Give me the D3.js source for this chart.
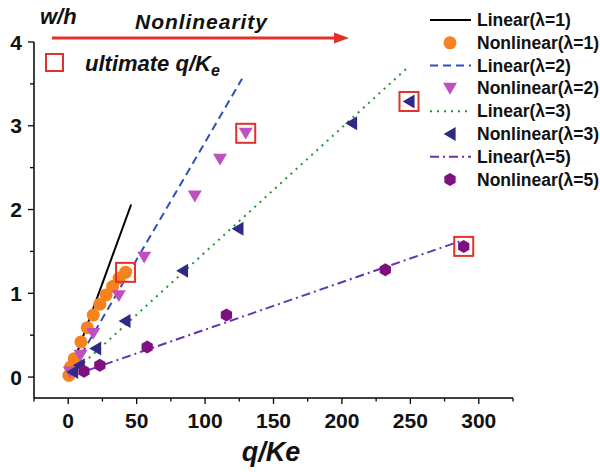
<!DOCTYPE html>
<html>
<head>
<meta charset="utf-8">
<script src="https://cdn.jsdelivr.net/npm/d3@7"></script>
<style>
  body { margin: 0; background: #fff; }
  text { font-family: "Liberation Sans", Arial, sans-serif; font-weight: bold; }
</style>
</head>
<body>
<div id="chart"></div>
<script>
// Linear fits: start and end of each straight line (q/Ke, w/h)
const linear1 = [[0, 0], [46, 2.06]];
const linear2 = [[0, 0], [127, 3.56]];
const linear3 = [[0, 0], [249, 3.71]];
const linear5 = [[0, 0], [286, 1.62]];

// Nonlinear results
const nonlin1X = [0.5, 1.7, 4.4, 9.3, 13.9, 18.3, 23.1, 27.7, 32.4, 37.2, 41.9];
const nonlin1Y = [0.02, 0.12, 0.22, 0.42, 0.59, 0.74, 0.87, 0.98, 1.08, 1.18, 1.25];
const nonlin2X = [1.2, 9, 18.3, 37, 55.5, 92.5, 110.9, 129.7];
const nonlin2Y = [0.06, 0.26, 0.52, 0.97, 1.43, 2.16, 2.6, 2.91];
const nonlin3X = [3.2, 8, 20, 41.4, 83.5, 124, 207, 249];
const nonlin3Y = [0.06, 0.14, 0.34, 0.67, 1.27, 1.77, 3.03, 3.29];
const nonlin5X = [11.5, 23.1, 57.7, 115.6, 231.7, 289];
const nonlin5Y = [0.07, 0.14, 0.36, 0.74, 1.28, 1.56];

// ultimate q/Ke points (last of each nonlinear series)
const ultimateX = [41.9, 129.7, 249, 289];
const ultimateY = [1.25, 2.91, 3.29, 1.56];

const xTicks = [0, 50, 100, 150, 200, 250, 300];
const yTicks = [0, 1, 2, 3, 4];

const legendLabels = ['Linear(λ=1)', 'Nonlinear(λ=1)', 'Linear(λ=2)', 'Nonlinear(λ=2)',
  'Linear(λ=3)', 'Nonlinear(λ=3)', 'Linear(λ=5)', 'Nonlinear(λ=5)'];

const width = 600, height = 472;
const svg = d3.select('#chart').append('svg')
  .attr('width', width).attr('height', height);

const x = d3.scaleLinear().domain([-25, 325]).range([34, 513]);
const y = d3.scaleLinear().domain([-0.25, 4]).range([398, 42]);

// Marker shapes
const triDown = s => `M${-s},${-s * 0.8}L${s},${-s * 0.8}L0,${s * 0.9}Z`;
const triLeft = s => `M${-s * 0.9},0L${s * 0.8},${-s}L${s * 0.8},${s}Z`;
const hexagon = r => d3.range(6).map(i => {
  const a = Math.PI / 3 * i + Math.PI / 6;
  return (i ? 'L' : 'M') + (r * Math.cos(a)).toFixed(2) + ',' + (r * Math.sin(a)).toFixed(2);
}).join('') + 'Z';
const circle = r => `M${r},0A${r},${r} 0 1,1 ${-r},0A${r},${r} 0 1,1 ${r},0Z`;

const lineStyles = {
  l1: { color: '#000000', dash: null, w: 2 },
  l2: { color: '#2e4fbf', dash: '8,5', w: 2 },
  l3: { color: '#1a9a2e', dash: '2,5', w: 2 },
  l5: { color: '#6236b0', dash: '9,4,2,4', w: 2 }
};
const markerStyles = {
  n1: { color: '#f5821f', path: circle(6.5) },
  n2: { color: '#c04fbf', path: triDown(7) },
  n3: { color: '#2f2a86', path: triLeft(7) },
  n5: { color: '#7e1080', path: hexagon(6.5) }
};

const line = d3.line().x(d => x(d[0])).y(d => y(d[1]));

// Axes
const xAxis = svg.append('g').attr('transform', 'translate(0,398)');
xAxis.append('line').attr('x1', 34).attr('x2', 513).attr('stroke', '#000').attr('stroke-width', 1.5);
xAxis.selectAll('.minor').data(d3.range(-25, 326, 25)).enter().append('line')
  .attr('x1', d => x(d)).attr('x2', d => x(d))
  .attr('y1', 0).attr('y2', d => d % 50 === 0 ? 6 : 3.5)
  .attr('stroke', '#000').attr('stroke-width', 1.3);
xAxis.selectAll('.lbl').data(xTicks).enter().append('text')
  .attr('x', d => x(d)).attr('y', 30).attr('text-anchor', 'middle')
  .attr('font-size', 21).attr('fill', '#111').text(d => d);

const yAxis = svg.append('g').attr('transform', 'translate(34,0)');
yAxis.append('line').attr('y1', 42).attr('y2', 398).attr('stroke', '#000').attr('stroke-width', 1.5);
yAxis.selectAll('.minor').data(d3.range(0, 4.01, 0.5)).enter().append('line')
  .attr('y1', d => y(d)).attr('y2', d => y(d))
  .attr('x1', 0).attr('x2', d => d % 1 === 0 ? -6 : -4)
  .attr('stroke', '#000').attr('stroke-width', 1.3);
yAxis.selectAll('.lbl').data(yTicks).enter().append('text')
  .attr('x', -12).attr('y', d => y(d) + 7.5).attr('text-anchor', 'end')
  .attr('font-size', 21).attr('fill', '#111').text(d => d);

// Axis titles
svg.append('text').attr('x', 271).attr('y', 461).attr('text-anchor', 'middle')
  .attr('font-size', 27).attr('font-style', 'italic').attr('fill', '#111').text('q/Ke');
svg.append('text').attr('x', 40).attr('y', 24)
  .attr('font-size', 22).attr('font-style', 'italic').attr('fill', '#111').text('w/h');

// Nonlinearity arrow
svg.append('text').attr('x', 135).attr('y', 29)
  .attr('font-size', 21).attr('font-style', 'italic').attr('fill', '#111')
  .attr('textLength', 132).text('Nonlinearity');
svg.append('line').attr('x1', 52).attr('x2', 336).attr('y1', 38).attr('y2', 38)
  .attr('stroke', '#e3312a').attr('stroke-width', 3);
svg.append('path').attr('d', 'M334,32.5L349,38L334,43.5Z').attr('fill', '#e3312a');

// ultimate legend
svg.append('rect').attr('x', 46).attr('y', 54).attr('width', 17).attr('height', 17)
  .attr('fill', 'none').attr('stroke', '#e3312a').attr('stroke-width', 2);
const ult = svg.append('text').attr('x', 85).attr('y', 71)
  .attr('font-size', 22).attr('font-style', 'italic').attr('fill', '#111');
ult.append('tspan').text('ultimate q/K');
ult.append('tspan').attr('font-size', 16).attr('dy', 5).text('e');

// Linear lines
[[linear1, 'l1'], [linear2, 'l2'], [linear3, 'l3'], [linear5, 'l5']].forEach(([pts, k]) => {
  const st = lineStyles[k];
  svg.append('path').attr('d', line(pts)).attr('fill', 'none')
    .attr('stroke', st.color).attr('stroke-width', st.w)
    .attr('stroke-dasharray', st.dash);
});

// Nonlinear markers
[[nonlin1X, nonlin1Y, 'n1'], [nonlin2X, nonlin2Y, 'n2'], [nonlin3X, nonlin3Y, 'n3'], [nonlin5X, nonlin5Y, 'n5']]
  .forEach(([xs, ys, k]) => {
    const st = markerStyles[k];
    svg.append('g').selectAll('path').data(xs).enter().append('path')
      .attr('transform', (d, i) => `translate(${x(d)},${y(ys[i])})`)
      .attr('d', st.path).attr('fill', st.color);
  });

// ultimate boxes
svg.append('g').selectAll('rect').data(ultimateX).enter().append('rect')
  .attr('x', d => x(d) - 9.5).attr('y', (d, i) => y(ultimateY[i]) - 9.5)
  .attr('width', 19).attr('height', 19)
  .attr('fill', 'none').attr('stroke', '#e3312a').attr('stroke-width', 2);

// Legend
const legendKeys = ['l1', 'n1', 'l2', 'n2', 'l3', 'n3', 'l5', 'n5'];
const lg = svg.append('g');
legendKeys.forEach((k, i) => {
  const cy = 20 + i * 22.8;
  if (k[0] === 'l') {
    const st = lineStyles[k];
    lg.append('line').attr('x1', 430).attr('x2', 471).attr('y1', cy).attr('y2', cy)
      .attr('stroke', st.color).attr('stroke-width', st.w).attr('stroke-dasharray', st.dash);
  } else {
    const st = markerStyles[k];
    lg.append('path').attr('transform', `translate(450,${cy})`).attr('d', st.path).attr('fill', st.color);
  }
  lg.append('text').attr('x', 477).attr('y', cy + 6).attr('font-size', 17.5)
    .attr('fill', '#111').text(legendLabels[i]);
});
</script>
</body>
</html>
